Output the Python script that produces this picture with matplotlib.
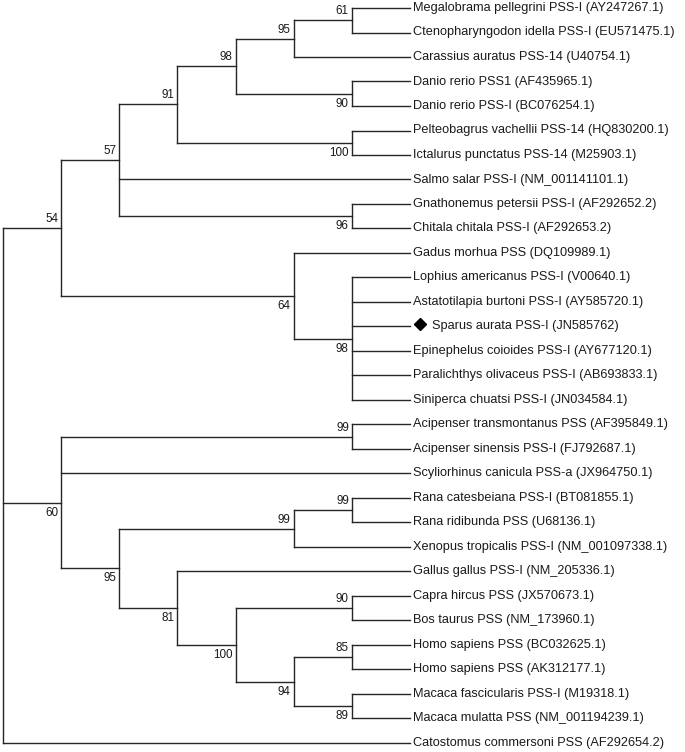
import matplotlib
matplotlib.use("Agg")
import matplotlib.pyplot as plt

plt.rcParams['font.family'] = ['Liberation Sans', 'DejaVu Sans']

# ---- data -------------------------------------------------------------
tip_labels = [
    "Megalobrama pellegrini PSS-I (AY247267.1)",
    "Ctenopharyngodon idella PSS-I (EU571475.1)",
    "Carassius auratus PSS-14 (U40754.1)",
    "Danio rerio PSS1 (AF435965.1)",
    "Danio rerio PSS-I (BC076254.1)",
    "Pelteobagrus vachellii PSS-14 (HQ830200.1)",
    "Ictalurus punctatus PSS-14 (M25903.1)",
    "Salmo salar PSS-I (NM_001141101.1)",
    "Gnathonemus petersii PSS-I (AF292652.2)",
    "Chitala chitala PSS-I (AF292653.2)",
    "Gadus morhua PSS (DQ109989.1)",
    "Lophius americanus PSS-I (V00640.1)",
    "Astatotilapia burtoni PSS-I (AY585720.1)",
    "Sparus aurata PSS-I (JN585762)",
    "Epinephelus coioides PSS-I (AY677120.1)",
    "Paralichthys olivaceus PSS-I (AB693833.1)",
    "Siniperca chuatsi PSS-I (JN034584.1)",
    "Acipenser transmontanus PSS (AF395849.1)",
    "Acipenser sinensis PSS-I (FJ792687.1)",
    "Scyliorhinus canicula PSS-a (JX964750.1)",
    "Rana catesbeiana PSS-I (BT081855.1)",
    "Rana ridibunda PSS (U68136.1)",
    "Xenopus tropicalis PSS-I (NM_001097338.1)",
    "Gallus gallus PSS-I (NM_205336.1)",
    "Capra hircus PSS (JX570673.1)",
    "Bos taurus PSS (NM_173960.1)",
    "Homo sapiens PSS (BC032625.1)",
    "Homo sapiens PSS (AK312177.1)",
    "Macaca fascicularis PSS-I (M19318.1)",
    "Macaca mulatta PSS (NM_001194239.1)",
    "Catostomus commersoni PSS (AF292654.2)",
]
highlight_tip = 13  # Sparus aurata (marked with a diamond)

# topology: nested tuples (bootstrap, [children]); ints are tip indices
tree = (None, [
    (54, [
        (57, [
            (91, [
                (98, [
                    (95, [(61, [0, 1]), 2]),
                    (90, [3, 4]),
                ]),
                (100, [5, 6]),
            ]),
            7,
            (96, [8, 9]),
        ]),
        (64, [10, (98, [11, 12, 13, 14, 15, 16])]),
    ]),
    (60, [
        (99, [17, 18]),
        19,
        (95, [
            (99, [(99, [20, 21]), 22]),
            (81, [
                23,
                (100, [
                    (90, [24, 25]),
                    (94, [(85, [26, 27]), (89, [28, 29])]),
                ]),
            ]),
        ]),
    ]),
    30,
])

# ---- layout -----------------------------------------------------------
W, H = 685, 752
fig = plt.figure(figsize=(W / 100, H / 100), dpi=100)
ax = fig.add_axes([0, 0, 1, 1])
ax.set_axis_off()

LINE = dict(color='#262626', lw=1.0, solid_capstyle='projecting')


def height(node):
    if isinstance(node, int):
        return 0
    return 1 + max(height(c) for c in node[1])


MAXH = height(tree)
labels_bs = []


def draw(node):
    """draws the subtree and returns (x, y) of its node."""
    if isinstance(node, int):
        return MAXH, node
    bs, children = node
    x = MAXH - height(node)
    coords = [draw(c) for c in children]
    ys = [c[1] for c in coords]
    y = (ys[0] + ys[-1]) / 2.0
    ax.plot([x, x], [ys[0], ys[-1]], **LINE)
    for i, (cx, cy) in enumerate(coords):
        ax.plot([x, cx], [cy, cy], **LINE)
        child = children[i]
        if not isinstance(child, int) and child[0] is not None:
            labels_bs.append((child[0], cx, cy, i == 0))
    return x, y


draw(tree)

for bs, x, y, up in labels_bs:
    if up:
        ax.annotate(str(bs), xy=(x, y), xytext=(-3, 3), textcoords='offset pixels',
                    ha='right', va='bottom', fontsize=8.4, color='#1a1a1a')
    else:
        ax.annotate(str(bs), xy=(x, y), xytext=(-3, -4), textcoords='offset pixels',
                    ha='right', va='top', fontsize=8.4, color='#1a1a1a')

for i, lab in enumerate(tip_labels):
    if i == highlight_tip:
        ax.plot([MAXH], [i], marker='D', ms=6.5, color='black', ls='none',
                transform=ax.transData + matplotlib.transforms.ScaledTranslation(
                    10 / 100, 2 / 100, fig.dpi_scale_trans))
        ax.annotate(lab, xy=(MAXH, i), xytext=(22, 0), textcoords='offset pixels',
                    ha='left', va='center', fontsize=9.2, color='#1a1a1a')
    else:
        ax.annotate(lab, xy=(MAXH, i), xytext=(3, 0), textcoords='offset pixels',
                    ha='left', va='center', fontsize=9.2, color='#1a1a1a')

# map: level 0 -> 3 px, level MAXH -> 410 px ; tip 0 -> 8 px, tip 30 -> 743 px
dx = (410 - 3) / MAXH
ax.set_xlim(-3 / dx, (W - 3) / dx)
dy = (743 - 8) / 30
ax.set_ylim((H - 8) / dy, -8 / dy)

fig.savefig("out.png", dpi=100)
